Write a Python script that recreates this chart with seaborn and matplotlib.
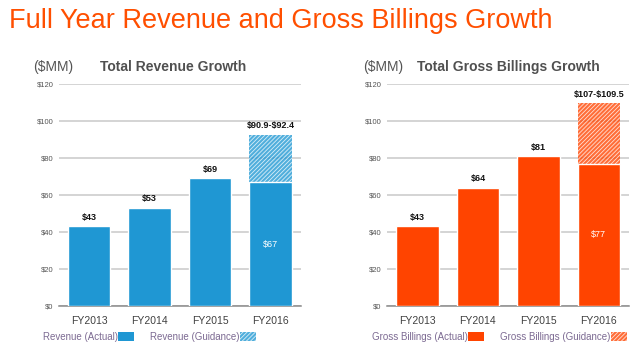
import pandas as pd
import numpy as np
import matplotlib
matplotlib.use("Agg")
import matplotlib.pyplot as plt
import matplotlib.patches as mpatches
import seaborn as sns

# data
years = ["FY2013", "FY2014", "FY2015", "FY2016"]
revenue_actual = [43, 53, 69, 67]
revenue_guidance = [90.9, 92.4]      # FY2016 range
billings_actual = [43, 64, 81, 77]
billings_guidance = [107, 109.5]     # FY2016 range
yticks = [0, 20, 40, 60, 80, 100, 120]

BLUE = "#1f97d3"
ORANGE = "#ff4400"
TITLE_COL = "#ff4f00"
LEG_COL = "#7c6a92"

sns.set_style("white")
plt.rcParams["font.family"] = ["Liberation Sans", "DejaVu Sans"]
plt.rcParams["hatch.linewidth"] = 0.6

fig = plt.figure(figsize=(6.4, 3.53), dpi=100)
fig.text(0.014, 0.94, "Full Year Revenue and Gross Billings Growth",
         color=TITLE_COL, fontsize=19.5, va="center", ha="left")


def panel(rect, actual, guidance, color, title, lab_act, lab_guid, leg_x, sub_x, title_x):
    ax = fig.add_axes(rect)
    df = pd.DataFrame({"year": years, "actual": actual})
    gdf = pd.DataFrame({"year": [years[-1]], "guidance": [guidance[1]]})

    # guidance bar (hatched), drawn first so actual covers the lower part
    sns.barplot(data=gdf, x="year", y="guidance", order=years, color=color,
                width=0.7, ax=ax, saturation=1, alpha=0.78, zorder=1)
    for p in ax.patches:
        p.set_hatch("////////")
        p.set_edgecolor("white")
        p.set_linewidth(0)
    n_g = len(ax.patches)
    sns.barplot(data=df, x="year", y="actual", order=years, color=color,
                width=0.7, ax=ax, saturation=1, zorder=3)
    act_bars = ax.patches[n_g:]

    ax.set_ylim(0, 120)
    ax.set_xlim(-0.5, 3.5)
    ax.set_yticks(yticks)
    ax.set_yticklabels(["$%d" % t for t in yticks], fontsize=5.5, color="#555555")
    ax.tick_params(axis="y", length=0, pad=4)
    ax.tick_params(axis="x", length=0, pad=7, labelsize=7.5, labelcolor="#404040")
    ax.set_xlabel("")
    ax.set_ylabel("")
    ax.yaxis.grid(True, color="#c9c9c9", linewidth=1.1, zorder=0)
    ax.set_axisbelow(True)
    for s in ["top", "right", "left"]:
        ax.spines[s].set_visible(False)
    ax.spines["bottom"].set_color("#8a8a8a")
    ax.spines["bottom"].set_linewidth(1.1)

    # value labels
    for i, b in enumerate(act_bars):
        cx = b.get_x() + b.get_width() / 2
        v = actual[i]
        if i == len(years) - 1:
            ax.text(cx, v / 2, "$%d" % v, color="white", fontsize=6.5,
                    ha="center", va="center", zorder=5)
        else:
            ax.text(cx, v + 2.5, "$%d" % v, color="#111111", fontsize=6.5,
                    fontweight="bold", ha="center", va="bottom", zorder=5)
    gtxt = r"\$%g-\$%g" % (guidance[0], guidance[1])
    ax.text(3, guidance[1] + 2.5, gtxt, color="#111111", fontsize=6.5,
            fontweight="bold", ha="center", va="bottom", zorder=5)

    fig.text(sub_x, 0.81, "($MM)", color="#555555", fontsize=10, va="center")
    fig.text(title_x, 0.81, title, color="#505050", fontsize=10,
             fontweight="bold", va="center")

    h1 = mpatches.Patch(facecolor=color, edgecolor="none", label=lab_act)
    h2 = mpatches.Patch(facecolor=color, edgecolor="white", hatch="////////",
                        alpha=0.78, linewidth=0, label=lab_guid)
    leg = fig.legend(handles=[h1, h2], loc="center left",
                     bbox_to_anchor=(leg_x, 0.045), ncol=2, frameon=False,
                     markerfirst=False, fontsize=7, handlelength=1.6,
                     handleheight=1.0, handletextpad=0.05, columnspacing=1.7,
                     borderaxespad=0, borderpad=0)
    for t in leg.get_texts():
        t.set_color(LEG_COL)
    return ax


panel([0.092, 0.133, 0.378, 0.629], revenue_actual, revenue_guidance, BLUE,
      "Total Revenue Growth", "Revenue (Actual)", "Revenue (Guidance)",
      0.067, 0.052, 0.156)
panel([0.605, 0.133, 0.378, 0.629], billings_actual, billings_guidance, ORANGE,
      "Total Gross Billings Growth", "Gross Billings (Actual)",
      "Gross Billings (Guidance)", 0.581, 0.568, 0.652)

fig.savefig("out.png", dpi=100)
